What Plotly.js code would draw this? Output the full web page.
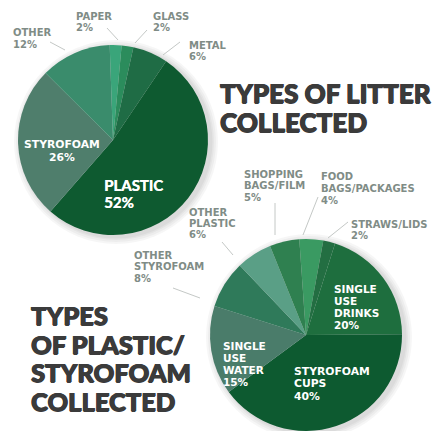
<!DOCTYPE html>
<html>
<head>
<meta charset="utf-8">
<script src="https://cdn.plot.ly/plotly-3.0.1.min.js"></script>
<style>html,body{margin:0;padding:0;background:#fff;}#chart{width:438px;height:431px;}</style>
</head>
<body>
<div id="chart"></div>
<script>
// Data: litter types
const litterLabels = ["PAPER", "GLASS", "METAL", "PLASTIC", "STYROFOAM", "OTHER"];
const litterValues = [2, 2, 6, 52, 26, 12];
// Data: plastic / styrofoam types
const plasticLabels = ["FOOD<br>BAGS/PACKAGES", "STRAWS/LIDS", "SINGLE<br>USE<br>DRINKS", "STYROFOAM<br>CUPS", "SINGLE<br>USE<br>WATER", "OTHER<br>STYROFOAM", "OTHER<br>PLASTIC", "SHOPPING<br>BAGS/FILM"];
const plasticValues = [4, 2, 20, 40, 15, 8, 6, 5];
const titles = ["TYPES OF LITTER<br>COLLECTED", "TYPES<br>OF PLASTIC/<br>STYROFOAM<br>COLLECTED"];

// Styles / positions (not data)
const litterColors = ["#3aa57a", "#2b8c5c", "#1f6c45", "#0e5a30", "#4f7e6c", "#3a8c6c"];
const plasticColors = ["#3a9a62", "#236e42", "#1e6e3e", "#0d5a30", "#4a7c6a", "#2f7a5a", "#5a9f86", "#2f8050"];
const W = 438, H = 431;
const GRAY = "#7f8c86", WHITE = "#ffffff";
const SMALL = "'DejaVu Sans', sans-serif";
// label placement in pixels: [x, yCenterFirstLine, anchor, color, size, lineGap, family]
const litterPos = [
  [75, 16, "left", GRAY, 10, 11.5, SMALL],
  [152, 16, "left", GRAY, 10, 11.5, SMALL],
  [188, 45, "left", GRAY, 10, 11.5, SMALL],
  [103, 185, "left", WHITE, 15, 17, "Lato, sans-serif"],
  [62, 145, "center", WHITE, 10.8, 12.5, SMALL],
  [12, 33, "left", GRAY, 10, 11.5, SMALL]
];
const plasticPos = [
  [320, 177, "left", GRAY, 10, 11.5, SMALL],
  [350, 224, "left", GRAY, 10, 11.5, SMALL],
  [333, 289, "left", WHITE, 10.5, 12, SMALL],
  [293, 371, "left", WHITE, 10.8, 12.5, SMALL],
  [222, 346, "left", WHITE, 10.5, 12, SMALL],
  [133, 255, "left", GRAY, 10, 11.5, SMALL],
  [188, 212, "left", GRAY, 10, 11.5, SMALL],
  [243, 174, "left", GRAY, 10, 11.5, SMALL]
];
// title placement: [x, yCenterFirstLine, size, lineGap]
const titlePos = [[219, 93, 26, 29], [30, 315, 25.5, 28.5]];
const leaders = [
  [50, 42, 65, 50], [107, 28, 118, 40], [147, 30, 135, 43], [180, 42, 163, 55],
  [275, 203, 275, 235], [318, 197, 303, 235], [348, 222, 328, 238],
  [222, 242, 233, 255], [173, 288, 200, 298]
];
// pie geometry in pixels: [cx, cy, r]
const pieGeom = [[113, 140, 95], [306, 335, 96]];

const px = x => x / W;
const py = y => 1 - y / H;

const annotations = [];
function addLines(lines, x, y0, anchor, color, size, gap, family, weight, shadow) {
  lines.forEach((ln, j) => {
    annotations.push({
      xref: "paper", yref: "paper", x: px(x), y: py(y0 + j * gap),
      xanchor: anchor, yanchor: "middle", align: anchor, borderpad: 0,
      text: ln, showarrow: false,
      font: {family: family, size: size, color: color, weight: weight, shadow: shadow || "none"}
    });
  });
}
function addLabels(labels, values, pos) {
  labels.forEach((lab, i) => {
    const p = pos[i];
    const lines = (lab + "<br>" + values[i] + "%").split("<br>");
    addLines(lines, p[0], p[1], p[2], p[3], p[4], p[5], p[6], 700, p[6] === SMALL ? "none" : "0.4px 0 0 " + p[3]);
  });
}
addLabels(litterLabels, litterValues, litterPos);
addLabels(plasticLabels, plasticValues, plasticPos);

titles.forEach((t, i) => {
  const p = titlePos[i];
  addLines(t.split("<br>"), p[0], p[1], "left", "#3b3b3b", p[2], p[3], "Lato, sans-serif", 900,
    "0.7px 0 0 #3b3b3b, -0.5px 0 0 #3b3b3b, 0 0.5px 0 #3b3b3b");
});

const shapes = leaders.map(l => ({
  type: "line", xref: "paper", yref: "paper",
  x0: px(l[0]), y0: py(l[1]), x1: px(l[2]), y1: py(l[3]),
  line: {color: "#c4c8c6", width: 1}
}));
// soft drop shadows behind pies
pieGeom.forEach(g => {
  [7, 5, 3, 1.5].forEach(d => {
    shapes.push({
      type: "circle", xref: "paper", yref: "paper", layer: "below",
      x0: px(g[0] + 3 - g[2] - d), x1: px(g[0] + 3 + g[2] + d),
      y0: py(g[1] + 2 + g[2] + d), y1: py(g[1] + 2 - g[2] - d),
      fillcolor: "rgba(0,0,0,0.035)", line: {width: 0}
    });
  });
});

const data = [
  {
    type: "pie", labels: litterLabels, values: litterValues, sort: false,
    direction: "clockwise", rotation: -2, textinfo: "none", hoverinfo: "label+percent",
    marker: {colors: litterColors, line: {width: 0}},
    domain: {x: [px(18), px(208)], y: [py(235), py(45)]}, showlegend: false
  },
  {
    type: "pie", labels: plasticLabels, values: plasticValues, sort: false,
    direction: "clockwise", rotation: -4, textinfo: "none", hoverinfo: "label+percent",
    marker: {colors: plasticColors, line: {width: 0}},
    domain: {x: [px(210), px(402)], y: [py(431), py(239)]}, showlegend: false
  }
];

Plotly.newPlot("chart", data, {
  width: W, height: H, margin: {l: 0, r: 0, t: 0, b: 0},
  paper_bgcolor: "#ffffff", showlegend: false,
  annotations: annotations, shapes: shapes
}, {displayModeBar: false, staticPlot: true});
</script>
</body>
</html>
